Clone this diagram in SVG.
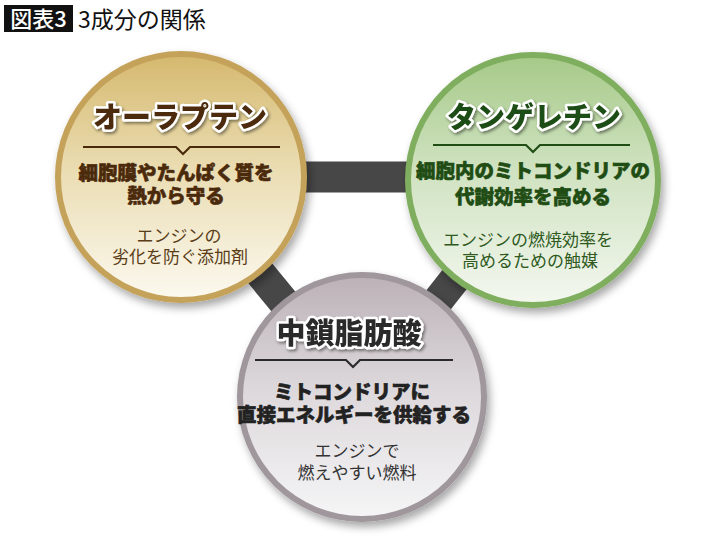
<svg xmlns="http://www.w3.org/2000/svg" width="710" height="537" viewBox="0 0 710 537">
<defs>
<linearGradient id="gGold" x1="0" y1="0" x2="0" y2="1">
<stop offset="0" stop-color="#d5b970"/>
<stop offset="0.45" stop-color="#eadcb0"/>
<stop offset="1" stop-color="#fbf8ee"/>
</linearGradient>
<linearGradient id="gGreen" x1="0" y1="0" x2="0" y2="1">
<stop offset="0" stop-color="#a7ca89"/>
<stop offset="0.45" stop-color="#cfe2c0"/>
<stop offset="1" stop-color="#f3f7ef"/>
</linearGradient>
<linearGradient id="gGrey" x1="0" y1="0" x2="0" y2="1">
<stop offset="0" stop-color="#bcb2b8"/>
<stop offset="0.45" stop-color="#dcd7da"/>
<stop offset="1" stop-color="#f5f5f6"/>
</linearGradient>
<filter id="shadow" x="-20%" y="-20%" width="140%" height="140%">
<feDropShadow dx="3" dy="5" stdDeviation="4" flood-color="#000" flood-opacity="0.35"/>
</filter>
<filter id="tshadow" x="-10%" y="-30%" width="120%" height="160%">
<feDropShadow dx="1.5" dy="2" stdDeviation="1.5" flood-color="#000" flood-opacity="0.45"/>
</filter>
</defs>
<style>
text{font-family:"Noto Sans CJK JP","Noto Sans CJK SC",sans-serif;text-anchor:middle}
.ttl{font-size:29px;font-weight:900;stroke:#fff;stroke-width:5px;stroke-linejoin:round;paint-order:stroke}
.sub{font-size:19.5px;font-weight:900;stroke-width:0.6px;stroke-linejoin:round}
.desc{font-size:17px;font-weight:400}
.bar{stroke:#474747;stroke-width:31;fill:none}
.div{fill:none;stroke-width:2.2}
</style>
<rect width="710" height="537" fill="#fff"/>
<g id="heading">
<rect x="4" y="5" width="69" height="27" fill="#111"/>
<text x="38.5" y="27" style="font-size:22px;font-weight:500" fill="#fff">図表3</text>
<text x="78" y="28" style="font-size:23px;font-weight:400;text-anchor:start" fill="#111">3成分の関係</text>
</g>
<g id="connectors">
<line class="bar" x1="181" y1="177" x2="533" y2="177"/>
<line class="bar" x1="181" y1="177" x2="362" y2="397"/>
<line class="bar" x1="533" y1="180" x2="362" y2="397"/>
</g>
<g id="node-auraptene">
<circle cx="181" cy="177" r="126" fill="#c4a25a" filter="url(#shadow)"/>
<circle cx="181" cy="177" r="120" fill="url(#gGold)"/>
<text class="ttl" x="180" y="128" fill="#4b2a0c" filter="url(#tshadow)">オーラプテン</text>
<polyline class="div" stroke="#4b2a0c" points="83,147 176,147 183,154 190,147 280,147"/>
<text class="sub" fill="#4b2a0c" stroke="#4b2a0c"><tspan x="176" y="180">細胞膜やたんぱく質を</tspan><tspan x="176" y="203">熱から守る</tspan></text>
<text class="desc" fill="#5a3d17"><tspan x="179" y="242">エンジンの</tspan><tspan x="180" y="263">劣化を防ぐ添加剤</tspan></text>
</g>
<g id="node-tangeretin">
<circle cx="533" cy="180" r="128" fill="#7fae5f" filter="url(#shadow)"/>
<circle cx="533" cy="180" r="122" fill="url(#gGreen)"/>
<text class="ttl" x="534" y="128" fill="#1f4d14" filter="url(#tshadow)">タンゲレチン</text>
<polyline class="div" stroke="#1f4d14" points="433,145 526,145 533,152 540,145 630,145"/>
<text class="sub" fill="#1f4d14" stroke="#1f4d14"><tspan x="533" y="178">細胞内のミトコンドリアの</tspan><tspan x="533" y="204">代謝効率を高める</tspan></text>
<text class="desc" fill="#2e5a1e"><tspan x="528" y="246">エンジンの燃焼効率を</tspan><tspan x="530" y="267">高めるための触媒</tspan></text>
</g>
<g id="node-mcfa">
<circle cx="362" cy="397" r="125" fill="#a0979c" filter="url(#shadow)"/>
<circle cx="362" cy="397" r="119" fill="url(#gGrey)"/>
<text class="ttl" x="349" y="344" fill="#2a2a2a" filter="url(#tshadow)">中鎖脂肪酸</text>
<polyline class="div" stroke="#2a2a2a" points="255,360 346,360 353,367 360,360 453,360"/>
<text class="sub" fill="#222" stroke="#222"><tspan x="352" y="399">ミトコンドリアに</tspan><tspan x="354" y="422">直接エネルギーを供給する</tspan></text>
<text class="desc" fill="#333"><tspan x="357" y="457">エンジンで</tspan><tspan x="357" y="479">燃えやすい燃料</tspan></text>
</g>
</svg>
